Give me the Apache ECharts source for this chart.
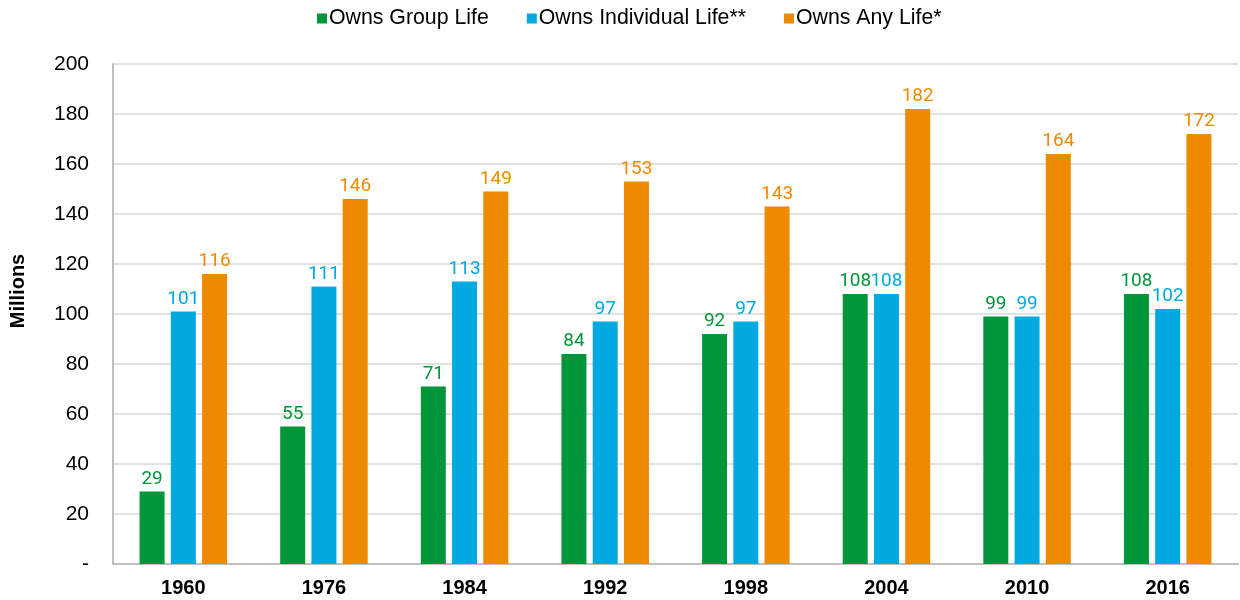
<!DOCTYPE html>
<html><head><meta charset="utf-8">
<script src="https://cdn.jsdelivr.net/npm/echarts@6/dist/echarts.min.js"></script>
<style>html,body{margin:0;padding:0;background:#fff}#c{width:1240px;height:600px}</style>
</head><body><div id="c"></div>
<script>
const categories = ['1960','1976','1984','1992','1998','2004','2010','2016'];
const groupLife = [29, 55, 71, 84, 92, 108, 99, 108];
const individualLife = [101, 111, 113, 97, 97, 108, 99, 102];
const anyLife = [116, 146, 149, 153, 143, 182, 164, 172];
const seriesNames = ['Owns Group Life', 'Owns Individual Life**', 'Owns Any Life*'];
const colors = ['#009639', '#00A9E0', '#EE8A00'];
const yTicks = { min: 0, max: 200, interval: 20 };

const chart = echarts.init(document.getElementById('c'), null, {renderer: 'canvas'});
const labelFont = 'Roboto, "DejaVu Sans Condensed", sans-serif';
const mainFont = '"Liberation Sans", Arial, sans-serif';
function mk(name, data, color) {
  return {
    name, type: 'bar', data, barWidth: 25, barGap: '25%',
    itemStyle: { color },
    label: { show: true, position: 'top', color, fontFamily: labelFont, fontSize: 19, distance: 3 }
  };
}
chart.setOption({
  animation: false,
  color: colors,
  legend: {
    top: 3, left: 312, itemWidth: 10, itemHeight: 10, itemGap: 38,
    icon: 'rect',
    textStyle: { fontFamily: mainFont, fontSize: 21.3, color: '#000', padding: [0,0,0,-3] },
    data: seriesNames
  },
  grid: { left: 113, right: 2, top: 64, bottom: 36 },
  graphic: [{
    type: 'text', x: 18, y: 291, rotation: Math.PI / 2,
    style: { text: 'Millions', fontFamily: mainFont, fontWeight: 'bold', fontSize: 20, fill: '#000',
      align: 'center', verticalAlign: 'middle' }
  }],
  xAxis: {
    type: 'category', data: categories,
    axisLine: { lineStyle: { color: '#bfbfbf', width: 2 } },
    axisTick: { show: false },
    axisLabel: { fontFamily: mainFont, fontWeight: 'bold', fontSize: 20, color: '#000', margin: 14 }
  },
  yAxis: {
    type: 'value', min: yTicks.min, max: yTicks.max, interval: yTicks.interval,
    axisLine: { show: true, lineStyle: { color: '#bfbfbf', width: 2 } },
    axisTick: { show: false },
    splitLine: { lineStyle: { color: '#d9d9d9', width: 1.5 } },
    axisLabel: { fontFamily: mainFont, fontSize: 21, color: '#000', margin: 24,
      formatter: v => v === 0 ? '-' : String(v) }
  },
  series: [
    mk(seriesNames[0], groupLife, colors[0]),
    mk(seriesNames[1], individualLife, colors[1]),
    mk(seriesNames[2], anyLife, colors[2])
  ]
});
</script></body></html>
